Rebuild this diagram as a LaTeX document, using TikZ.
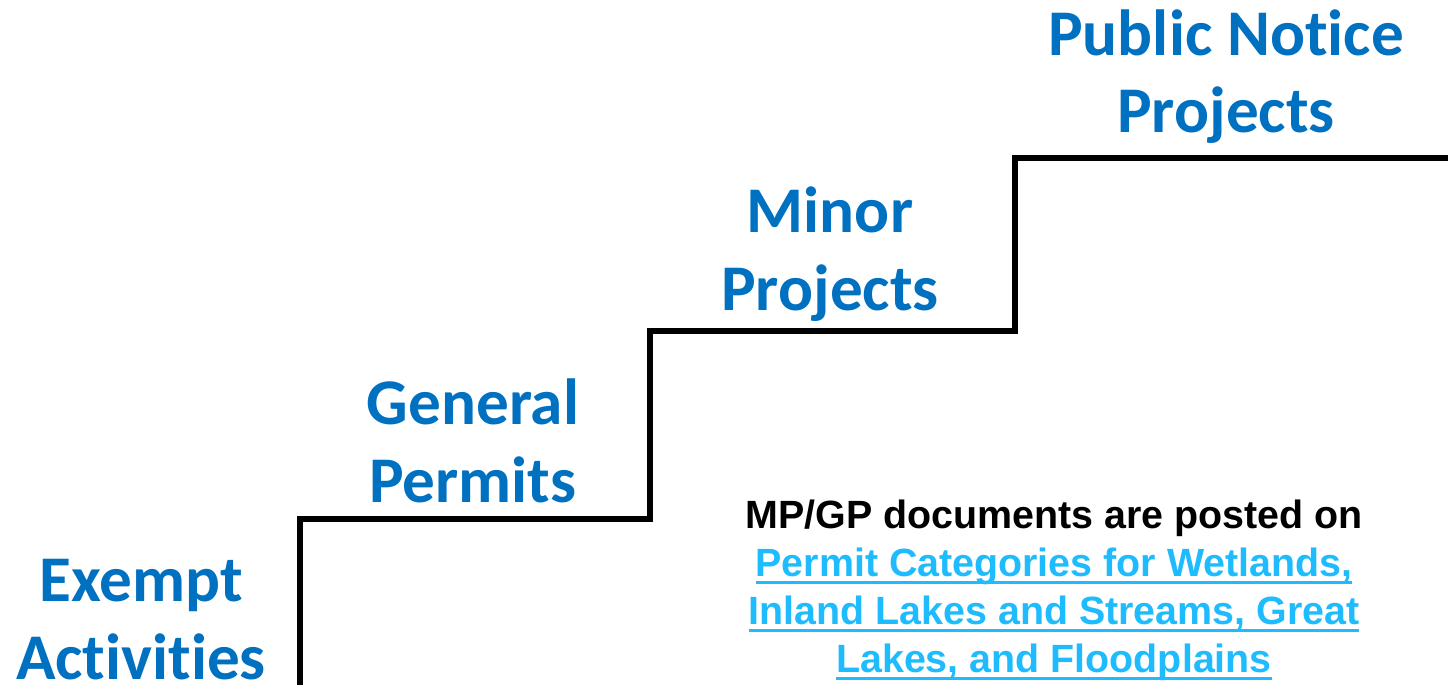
\documentclass[tikz,border=0pt]{standalone}
\usepackage{fontspec}
\setmainfont{Carlito}[Ligatures=CommonOff]
\newfontfamily\notefont{Liberation Sans}

\definecolor{stepblue}{HTML}{0070C0}
\definecolor{linkblue}{HTML}{1FBBFF}

% underlined link text, rule just below the baseline
\newcommand\underlink[1]{\leavevmode\setbox0\hbox{#1}%
  \rlap{\rule[-4pt]{\wd0}{1.6pt}}\box0}

\tikzset{
  steplabel/.style={font=\fontsize{32.6}{39}\selectfont\bfseries, text=stepblue,
    align=center, inner sep=0pt, anchor=base},
  notetext/.style={font=\notefont\fontsize{19.7}{24}\selectfont\bfseries,
    align=center, inner sep=0pt, anchor=base},
}

\begin{document}
\begin{tikzpicture}[x=0.5pt,y=-0.5pt]
\useasboundingbox (0,0) rectangle (1448,685);

% the staircase
\draw[line width=3pt] (300,690) -- (300,518.5) -- (650,518.5) -- (650,331)
  -- (1015,331) -- (1015,158) -- (1450,158);

% one label per step (base = last line)
\node[steplabel] (exempt) at (141,679) {Exempt\\Activities};
\node[steplabel] (general) at (473,502) {General\\Permits};
\node[steplabel] (minor) at (830,310) {Minor\\Projects};
\node[steplabel] (public) at (1226,133) {Public Notice\\Projects};

% where the documents are
\node[notetext] (note) at (1054,672) {MP/GP documents are posted on\\
  \color{linkblue}\underlink{Permit Categories for Wetlands,}\\
  \color{linkblue}\underlink{Inland Lakes and Streams, Great}\\
  \color{linkblue}\underlink{Lakes, and Floodplains}};
\end{tikzpicture}
\end{document}
